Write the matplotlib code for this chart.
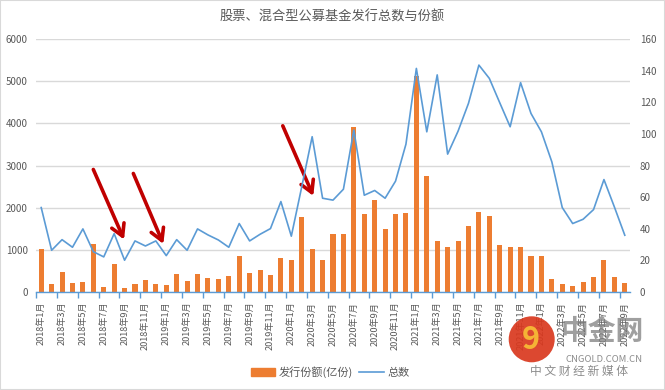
import matplotlib
matplotlib.use("Agg")
import matplotlib.pyplot as plt
from matplotlib.patches import Patch, Ellipse, Rectangle
from matplotlib.lines import Line2D

plt.rcParams['font.family'] = ['Noto Sans CJK SC', 'DejaVu Sans']

years = [2018, 2019, 2020, 2021, 2022]
months = [f"{y}年{m}月" for y in years for m in range(1, 13)][:57]

share = [1030, 200, 480, 220, 245, 1140, 127, 665, 95, 182, 277, 198,
         166, 427, 253, 427, 332, 309, 372, 863, 451, 515, 396, 815,
         768, 1789, 1021, 768, 1385, 1369, 3918, 1852, 2185, 1496, 1852, 1868,
         5122, 2755, 1211, 1077, 1219, 1567, 1900, 1805, 1124, 1077, 1077, 847,
         847, 317, 190, 142, 245, 364, 752, 356, 222]

count = [53.4, 26.4, 33.1, 28.3, 39.9, 25.5, 22.2, 36.9, 20.1, 32.3, 29.1, 32.3,
         23.0, 33.1, 26.4, 39.9, 36.1, 32.9, 28.3, 43.3, 32.3, 36.5, 40.1, 57.2,
         35.3, 66.5, 98.2, 59.3, 58.1, 65.0, 102.4, 61.2, 64.2, 59.3, 70.1, 93.5,
         141.4, 101.3, 137.3, 87.2, 101.7, 119.3, 143.5, 135.1, 119.7, 104.5, 132.4, 112.9,
         101.3, 82.3, 53.4, 43.3, 46.0, 52.1, 71.1, 53.8, 35.9]

# arrows: (tail_x, tail_y, head_x, head_y) in month index / left-axis units
arrows = [(5.0, 2906, 7.95, 1244), (8.84, 2811, 11.72, 1140), (23.18, 3941, 26.11, 2279)]

title = "股票、混合型公募基金发行总数与份额"
bar_label = "发行份额(亿份)"
line_label = "总数"

TXT = '#595959'
ORANGE = '#ED7D31'
BLUE = '#5B9BD5'

fig = plt.figure(figsize=(6.65, 3.9), dpi=100)
ax = fig.add_axes([36/665, 1 - 292/390, 594/665, 253/390])
ax2 = ax.twinx()

x = list(range(len(months)))
ax.bar(x, share, width=0.48, color=ORANGE, zorder=2)
ax2.plot(x, count, color=BLUE, lw=1.2, zorder=3)

ax.set_xlim(-0.5, len(months) - 0.5)
ax.set_ylim(0, 6000)
ax2.set_ylim(0, 160)
ax.set_yticks(range(0, 6001, 1000))
ax2.set_yticks(range(0, 161, 20))
ax.yaxis.grid(True, color='#D9D9D9', lw=1)
ax.set_axisbelow(True)

for a in (ax, ax2):
    for s in ('top', 'left', 'right', 'bottom'):
        a.spines[s].set_visible(False)
ax.spines['bottom'].set_visible(True)
ax.spines['bottom'].set_color(BLUE)
ax.spines['bottom'].set_linewidth(1.0)

ax.tick_params(axis='y', length=0, labelsize=7, labelcolor=TXT, pad=6)
ax2.tick_params(axis='y', length=0, labelsize=7, labelcolor=TXT, pad=7)

ax.set_xticks(x[::2])
ax.set_xticklabels(months[::2], rotation=90, fontsize=6.6, color=TXT)
ax.set_xticks([i - 0.5 for i in range(0, len(months) + 1, 2)], minor=True)
ax.tick_params(axis='x', which='major', length=0, pad=7)
ax.tick_params(axis='x', which='minor', length=4, color=BLUE, width=1)

for tx, ty, hx, hy in arrows:
    ax.annotate('', xy=(hx, hy), xytext=(tx, ty),
                arrowprops=dict(arrowstyle='->,head_length=0.7,head_width=0.4',
                                color='#C00000', lw=2.6, mutation_scale=12,
                                shrinkA=0, shrinkB=0),
                zorder=5, annotation_clip=False)

fig.text(332/665, 1 - 17/390, title, ha='center', va='center',
         fontsize=9.5, color=TXT)

handles = [Patch(color=ORANGE, label=bar_label),
           Line2D([0], [0], color=BLUE, lw=1.2, label=line_label)]
fig.legend(handles=handles, loc='center', bbox_to_anchor=(330/665, 1 - 372/390),
           ncol=2, frameon=False, fontsize=8, labelcolor=TXT,
           handlelength=2.2, handleheight=0.7, handletextpad=0.3, columnspacing=0.6)

# watermark
fig.patches.append(Ellipse((531.7/665, 1 - 339.3/390), 46/665, 46/390,
                           transform=fig.transFigure, facecolor='#D9381E',
                           edgecolor='none', alpha=0.92, zorder=10))
fig.text(531/665, 1 - 340/390, "9", ha='center', va='center', fontsize=22,
         fontweight='bold', color='#F5B335', zorder=11)
fig.text(602/665, 1 - 332/390, "中金网", ha='center', va='center', fontsize=20,
         fontweight='bold', color='#7F7F7F', alpha=0.75, zorder=11)
fig.text(604/665, 1 - 359/390, "CNGOLD.COM.CN", ha='center', va='center', fontsize=6.8,
         color='#8C8C8C', zorder=11)
fig.text(579/665, 1 - 371/390, "中 文 财 经 新 媒 体", ha='center', va='center',
         fontsize=8.5, color='#8C8C8C', zorder=11)

fig.patches.append(Rectangle((0, 0), 1, 1, transform=fig.transFigure, fill=False,
                             edgecolor='#D9D9D9', lw=1.5, zorder=0))

fig.savefig('out.png', dpi=100)
